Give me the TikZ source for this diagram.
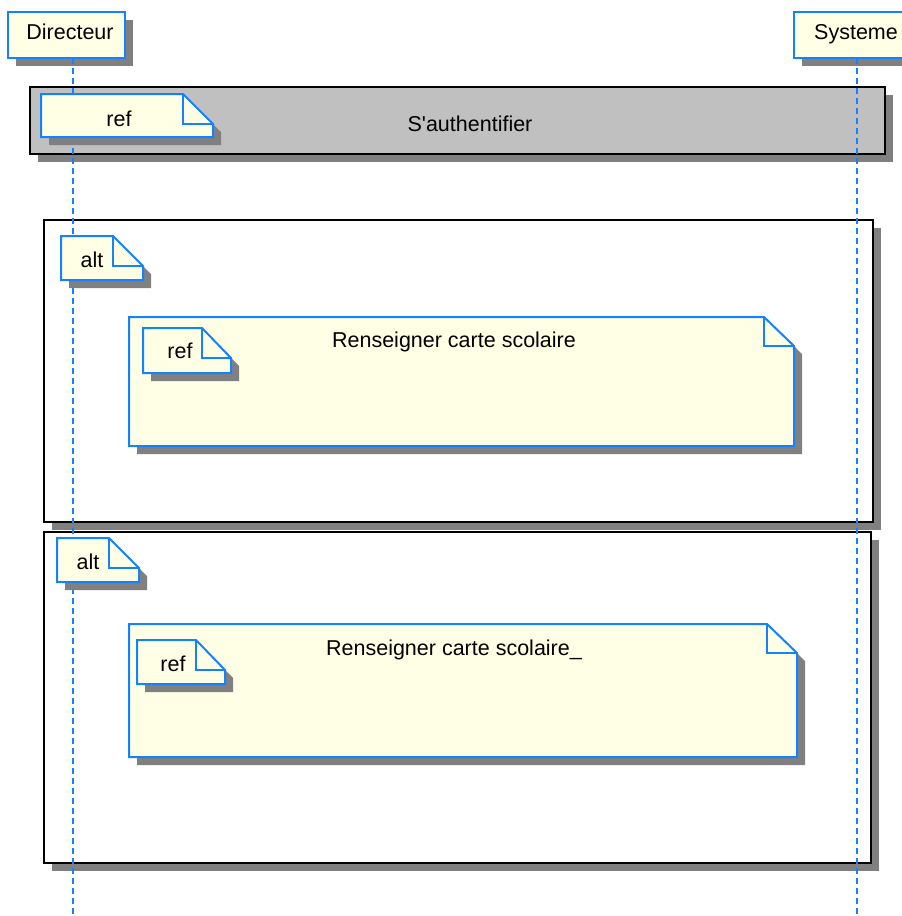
\documentclass[tikz,border=0pt]{standalone}
\usepackage{fontspec}
\setmainfont{Liberation Sans}
\definecolor{umlblue}{RGB}{20,130,255}
\definecolor{umlfill}{RGB}{255,255,230}
\definecolor{umlshadow}{RGB}{128,128,128}
\definecolor{framegray}{RGB}{192,192,192}
\newcommand\umlnote[6]{%
  \fill[umlshadow] (#1+8,#2+8) -- (#5+8,#2+8) -- (#3+8,#6+8) -- (#3+8,#4+8) -- (#1+8,#4+8) -- cycle;
  \filldraw[notebody] (#1,#2) -- (#5,#2) -- (#3,#6) -- (#3,#4) -- (#1,#4) -- cycle;
  \draw[notefold] (#5,#2) -- (#5,#6) -- (#3,#6);
}
\newcommand\umlbox[5]{% x1,y1,x2,y2,style
  \fill[umlshadow] (#1+8,#2+8) rectangle (#3+8,#4+8);
  \filldraw[#5] (#1,#2) rectangle (#3,#4);
}
\begin{document}
\begin{tikzpicture}[x=1pt,y=-1pt,
  notebody/.style={fill=umlfill,draw=umlblue,line width=2pt,line join=miter},
  notefold/.style={draw=umlblue,line width=1.5pt},
  grayframe/.style={fill=framegray,draw=black,line width=2pt},
  whiteframe/.style={fill=white,draw=black,line width=2pt},
  lifeline/.style={draw=umlblue,line width=1.8pt,dash pattern=on 6pt off 4pt},
  lbl/.style={anchor=base,inner sep=0pt,font=\fontsize{21.5}{25}\selectfont}]
\useasboundingbox (0,0) rectangle (902,916);
\clip (0,0) rectangle (902,916);
\fill[white] (0,0) rectangle (902,916);
% actors
\umlbox{8}{12}{125}{58}{notebody}
\umlbox{794}{12}{911}{58}{notebody}
\node[lbl] (dir) at (70,39) {Directeur};
\node[lbl] (sys) at (856,39) {Systeme};
% ref frame
\umlbox{30}{87}{885}{154}{grayframe}
% alt frames
\umlbox{44}{220}{873}{522}{whiteframe}
\umlbox{44}{532}{871}{863}{whiteframe}
% big ref notes
\umlnote{129}{317}{794}{446}{764}{346}
\umlnote{129}{624}{797}{757}{767}{653}
% lifelines
\coordinate (dirtop) at (73,58);
\coordinate (dirbot) at (73,916);
\coordinate (systop) at (857,58);
\coordinate (sysbot) at (857,916);
\draw[lifeline] (dirtop) -- (dirbot);
\draw[lifeline] (systop) -- (sysbot);
% tabs
\umlnote{41}{94}{213}{137}{183}{124}
\umlnote{61}{236}{143}{280}{113}{266}
\umlnote{143}{328}{231}{373}{202}{358}
\umlnote{57}{538}{139}{582}{109}{568}
\umlnote{137}{640}{225}{684}{196}{670}
% labels
\node[lbl] (refa) at (119,126) {ref};
\node[lbl] (auth) at (470,131) {S\textquotesingle authentifier};
\node[lbl] (alta) at (92,267) {alt};
\node[lbl] (refb) at (180,358) {ref};
\node[lbl] (rcs) at (454,347) {Renseigner carte scolaire};
\node[lbl] (altb) at (88,569) {alt};
\node[lbl] (refc) at (173,671) {ref};
\node[lbl] (rcsb) at (454,655) {Renseigner carte scolaire\_};
\end{tikzpicture}
\end{document}
